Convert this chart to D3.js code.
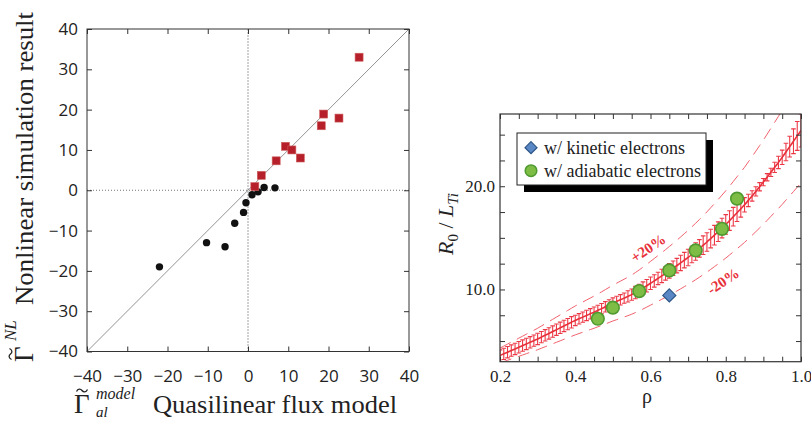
<!DOCTYPE html>
<meta charset="utf-8">
<style>
body { margin: 0; background: #fff; }
svg { display: block; }
.tick line { stroke: #333; }
</style>
<body>
<script src="https://d3js.org/d3.v7.min.js"></script>
<script>
// ---- left panel: flux model vs nonlinear result ----
var gammaModelRed = [27.6, 18.8, 22.6, 18.2, 9.3, 10.9, 13.0, 7.0, 3.3, 1.7];
var gammaNLRed    = [33.0, 18.9, 17.9, 16.0, 10.9, 10.0, 8.0, 7.3, 3.7, 0.9];
var gammaModelBlack = [-22.0, -10.3, -5.7, -3.3, -1.1, -0.5, 1.0, 2.5, 4.0, 6.7];
var gammaNLBlack    = [-19.0, -13.0, -14.0, -8.2, -5.5, -3.1, -1.1, -0.4, 0.7, 0.6];
var leftTicks = [-40, -30, -20, -10, 0, 10, 20, 30, 40];

// ---- right panel: R0/LTi vs rho ----
var rhoAdiabatic  = [0.46, 0.50, 0.57, 0.65, 0.72, 0.79, 0.83];
var gradAdiabatic = [7.16, 8.23, 9.84, 11.84, 13.78, 15.87, 18.8];
var rhoKinetic  = [0.65];
var gradKinetic = [9.42];
var rhoGrid = [0.20,0.21,0.22,0.23,0.24,0.25,0.26,0.27,0.28,0.29,
               0.30,0.31,0.32,0.33,0.34,0.35,0.36,0.37,0.38,0.39,
               0.40,0.41,0.42,0.43,0.44,0.45,0.46,0.47,0.48,0.49,
               0.50,0.51,0.52,0.53,0.54,0.55,0.56,0.57,0.58,0.59,
               0.60,0.61,0.62,0.63,0.64,0.65,0.66,0.67,0.68,0.69,
               0.70,0.71,0.72,0.73,0.74,0.75,0.76,0.77,0.78,0.79,
               0.80,0.81,0.82,0.83,0.84,0.85,0.86,0.87,0.88,0.89,
               0.90,0.91,0.92,0.93,0.94,0.95,0.96,0.97,0.98,0.99,1.00];
var gradModel = [3.60,3.76,3.92,4.08,4.24,4.40,4.56,4.72,4.88,5.04,
                 5.20,5.38,5.56,5.74,5.92,6.10,6.28,6.46,6.64,6.82,
                 7.00,7.16,7.32,7.48,7.64,7.80,7.97,8.14,8.32,8.50,
                 8.68,8.84,9.00,9.16,9.33,9.50,9.70,9.91,10.13,10.36,
                 10.60,10.83,11.07,11.31,11.55,11.80,12.05,12.31,12.57,12.84,
                 13.10,13.39,13.68,13.98,14.29,14.60,14.93,15.26,15.60,15.95,
                 16.30,16.67,17.05,17.43,17.81,18.20,18.63,19.06,19.50,19.95,
                 20.40,20.87,21.35,21.83,22.31,22.80,23.32,23.84,24.36,24.88,25.40];
var gradErr = [0.55,0.55,0.55,0.55,0.55,0.55,0.55,0.55,0.55,0.55,
               0.55,0.55,0.55,0.55,0.55,0.55,0.55,0.55,0.55,0.55,
               0.5,0.5,0.5,0.5,0.5,0.5,0.5,0.5,0.5,0.5,
               0.5,0.5,0.5,0.5,0.55,0.55,0.6,0.6,0.6,0.6,
               0.6,0.6,0.6,0.65,0.65,0.7,0.7,0.7,0.75,0.75,
               0.8,0.8,0.85,0.85,0.9,0.9,0.9,0.95,0.95,0.95,
               0.95,0.95,0.9,0.85,0.8,0.7,0.6,0.5,0.45,0.4,
               0.35,0.35,0.4,0.5,0.6,0.7,0.85,1.0,1.2,1.4,1.6];
var bandFactor = [1.2, 0.8];
var bandLabels = ["+20%", "-20%"];
var rhoTicks = [0.2,0.25,0.3,0.35,0.4,0.45,0.5,0.55,0.6,0.65,0.7,0.75,0.8,0.85,0.9,0.95,1.0];
var rhoLabels = [0.2, 0.4, 0.6, 0.8, 1.0];
var gradTicks = [5, 7.5, 10, 12.5, 15, 17.5, 20, 22.5, 25];
var gradLabels = [10, 20];

var serif = "'Liberation Serif', 'DejaVu Serif', serif";
var sans = "'Open Sans', sans-serif";

var svg = d3.select("body").append("svg")
    .attr("width", 811).attr("height", 421);

// ================= left panel =================
var x1 = d3.scaleLinear().domain([-40, 40]).range([87, 409]);
var y1 = d3.scaleLinear().domain([-40, 40]).range([351.5, 29]);

var L = svg.append("g");

L.append("line")
    .attr("x1", x1(-40)).attr("y1", y1(-40))
    .attr("x2", x1(40)).attr("y2", y1(40))
    .attr("stroke", "#777").attr("stroke-width", 0.8);
L.append("line")
    .attr("x1", x1(0)).attr("x2", x1(0)).attr("y1", y1(-40)).attr("y2", y1(40))
    .attr("stroke", "#444").attr("stroke-width", 1).attr("stroke-dasharray", "1,2");
L.append("line")
    .attr("x1", x1(-40)).attr("x2", x1(40)).attr("y1", y1(0)).attr("y2", y1(0))
    .attr("stroke", "#777").attr("stroke-width", 1).attr("stroke-dasharray", "1,2");

L.append("g").attr("transform", "translate(0," + y1(-40) + ")")
    .call(d3.axisBottom(x1).tickValues(leftTicks).tickSize(-5).tickPadding(18));
L.append("g").attr("transform", "translate(0," + y1(40) + ")")
    .call(d3.axisTop(x1).tickValues(leftTicks).tickSize(-5).tickFormat(""));
L.append("g").attr("transform", "translate(" + x1(-40) + ",0)")
    .call(d3.axisLeft(y1).tickValues(leftTicks).tickSize(-5).tickPadding(9));
L.append("g").attr("transform", "translate(" + x1(40) + ",0)")
    .call(d3.axisRight(y1).tickValues(leftTicks).tickSize(-5).tickFormat(""));
L.selectAll(".domain").remove();
L.selectAll(".tick text").style("font-family", sans).style("font-size", "17px").style("fill", "#222");
L.append("rect")
    .attr("x", x1(-40)).attr("y", y1(40))
    .attr("width", x1(40) - x1(-40)).attr("height", y1(-40) - y1(40))
    .attr("fill", "none").attr("stroke", "#333").attr("stroke-width", 1);

L.selectAll(".blk").data(gammaModelBlack).enter().append("circle")
    .attr("cx", function(d) { return x1(d); })
    .attr("cy", function(d, i) { return y1(gammaNLBlack[i]); })
    .attr("r", 3.7).attr("fill", "#111");

L.selectAll(".red").data(gammaModelRed).enter().append("rect")
    .attr("x", function(d) { return x1(d) - 4; })
    .attr("y", function(d, i) { return y1(gammaNLRed[i]) - 4; })
    .attr("width", 8).attr("height", 8)
    .attr("fill", "#b5202a").attr("stroke", "#d06060").attr("stroke-width", 0.6);

// axis titles (serif, TeX-like); gamma with a tilde drawn on top
function gammaTilde(g, x, y) {
  g.append("text").attr("x", x).attr("y", y).style("font-family", serif).style("font-size", "27px").style("fill", "#222").text("\u0393");
  g.append("path")
      .attr("transform", "translate(" + x + "," + y + ")")
      .attr("d", "M2.5,-21.5C4,-24.5 6.5,-24.5 8,-22.5C9.5,-20.5 12,-20.5 13.5,-23.5")
      .attr("fill", "none").attr("stroke", "#222").attr("stroke-width", 1.3);
}
var xt = L.append("g");
gammaTilde(xt, 74, 413);
xt.append("text").attr("x", 96).attr("y", 399).style("font-family", serif).style("font-size", "16px").style("font-style", "italic").style("fill", "#222").text("model");
xt.append("text").attr("x", 96).attr("y", 417).style("font-family", serif).style("font-size", "15px").style("font-style", "italic").style("fill", "#222").text("al");
xt.append("text").attr("x", 153).attr("y", 413).style("font-family", serif).style("font-size", "25px").style("fill", "#222")
    .attr("textLength", 244).attr("lengthAdjust", "spacingAndGlyphs").text("Quasilinear flux model");

var yt = L.append("g").attr("transform", "translate(33,362) rotate(-90)");
gammaTilde(yt, 0, 0);
yt.append("text").attr("x", 21).attr("y", -17).style("font-family", serif).style("font-size", "17px").style("font-style", "italic").style("fill", "#222").text("NL");
yt.append("text").attr("x", 57).attr("y", 0).style("font-family", serif).style("font-size", "25px").style("fill", "#222")
    .attr("textLength", 293).attr("lengthAdjust", "spacingAndGlyphs").text("Nonlinear simulation result");

// ================= right panel =================
var x2 = d3.scaleLinear().domain([0.2, 1.0]).range([500, 801]);
var y2 = d3.scaleLinear().domain([3, 27]).range([361.7, 114]);
var R = svg.append("g");

svg.append("defs").append("clipPath").attr("id", "clipR")
  .append("rect").attr("x", 500).attr("y", 114).attr("width", 301).attr("height", 247.7);

var plot = R.append("g").attr("clip-path", "url(#clipR)");

var curve = d3.line()
    .x(function(d, i) { return x2(rhoGrid[i]); })
    .y(function(d) { return y2(d); })
    .curve(d3.curveMonotoneX);

// +/-20% bands
bandFactor.forEach(function(f) {
  plot.append("path")
      .datum(gradModel.map(function(v) { return v * f; }))
      .attr("d", curve)
      .attr("fill", "none").attr("stroke", "#f0606c").attr("stroke-width", 1)
      .attr("stroke-dasharray", "12,7");
});

// error bars
var eb = plot.selectAll(".eb").data(gradModel).enter().append("g").attr("class", "eb");
eb.append("line")
    .attr("x1", function(d, i) { return x2(rhoGrid[i]); })
    .attr("x2", function(d, i) { return x2(rhoGrid[i]); })
    .attr("y1", function(d, i) { return y2(d - gradErr[i]); })
    .attr("y2", function(d, i) { return y2(d + gradErr[i]); })
    .attr("stroke", "#ec3846").attr("stroke-width", 1.1);
[-1, 1].forEach(function(s) {
  eb.append("line")
      .attr("x1", function(d, i) { return x2(rhoGrid[i]) - 2.3; })
      .attr("x2", function(d, i) { return x2(rhoGrid[i]) + 2.3; })
      .attr("y1", function(d, i) { return y2(d + s * gradErr[i]); })
      .attr("y2", function(d, i) { return y2(d + s * gradErr[i]); })
      .attr("stroke", "#ec3846").attr("stroke-width", 1.1);
});

plot.append("path").datum(gradModel).attr("d", curve)
    .attr("fill", "none").attr("stroke", "#e8303a").attr("stroke-width", 1.6);

// band labels
var labPos = [[648, 248], [723, 281]];
bandLabels.forEach(function(t, i) {
  R.append("text")
      .attr("transform", "translate(" + labPos[i][0] + "," + labPos[i][1] + ") rotate(-34)")
      .attr("text-anchor", "middle").attr("dy", "0.35em")
      .style("font-family", serif).style("font-size", "15px").style("font-weight", "bold").style("fill", "#e8303a")
      .text(t);
});

// points
R.selectAll(".ad").data(rhoAdiabatic).enter().append("circle")
    .attr("cx", function(d) { return x2(d); })
    .attr("cy", function(d, i) { return y2(gradAdiabatic[i]); })
    .attr("r", 6.3).attr("fill", "#7dbd45").attr("stroke", "#4f9a30").attr("stroke-width", 1.6);
R.selectAll(".kin").data(rhoKinetic).enter().append("path")
    .attr("transform", function(d, i) { return "translate(" + x2(d) + "," + y2(gradKinetic[i]) + ")"; })
    .attr("d", "M0,-6.5L6.5,0L0,6.5L-6.5,0Z")
    .attr("fill", "#5a88c4").attr("stroke", "#2d5587").attr("stroke-width", 1.2);

// axes
var f1 = d3.format(".1f");
var ax = R.append("g");
ax.append("g").attr("transform", "translate(0," + y2(3) + ")")
    .call(d3.axisBottom(x2).tickValues(rhoTicks).tickSize(-5).tickPadding(8.5)
      .tickFormat(function(d) { return rhoLabels.some(function(v) { return Math.abs(v - d) < 1e-6; }) ? f1(d) : ""; }));
ax.append("g").attr("transform", "translate(0," + y2(27) + ")")
    .call(d3.axisTop(x2).tickValues(rhoTicks).tickSize(-5).tickFormat(""));
ax.append("g").attr("transform", "translate(" + x2(0.2) + ",0)")
    .call(d3.axisLeft(y2).tickValues(gradTicks).tickSize(-5).tickPadding(5)
      .tickFormat(function(d) { return gradLabels.indexOf(d) >= 0 ? f1(d) : ""; }));
ax.append("g").attr("transform", "translate(" + x2(1.0) + ",0)")
    .call(d3.axisRight(y2).tickValues(gradTicks).tickSize(-5).tickFormat(""));
ax.selectAll(".domain").remove();
ax.selectAll(".tick text").style("font-family", serif).style("font-size", "17px").style("fill", "#222");
R.append("rect")
    .attr("x", x2(0.2)).attr("y", y2(27))
    .attr("width", x2(1.0) - x2(0.2)).attr("height", y2(3) - y2(27))
    .attr("fill", "none").attr("stroke", "#333").attr("stroke-width", 1.2);

// legend
var lg = R.append("g");
lg.append("rect").attr("x", 524).attr("y", 140).attr("width", 189).attr("height", 52).attr("fill", "#000");
lg.append("rect").attr("x", 517).attr("y", 133).attr("width", 189).attr("height", 52)
    .attr("fill", "#fff").attr("stroke", "#222").attr("stroke-width", 1);
lg.append("path").attr("transform", "translate(531,147.7)")
    .attr("d", "M0,-6L6,0L0,6L-6,0Z")
    .attr("fill", "#5a88c4").attr("stroke", "#2d5587").attr("stroke-width", 1.2);
lg.append("circle").attr("cx", 531).attr("cy", 170.7).attr("r", 5.8)
    .attr("fill", "#7dbd45").attr("stroke", "#4f9a30").attr("stroke-width", 1.5);
lg.append("text").attr("x", 544).attr("y", 153.5).text("w/ kinetic electrons");
lg.append("text").attr("x", 544).attr("y", 176.5).text("w/ adiabatic electrons");
lg.selectAll("text").style("font-family", serif).style("font-size", "18px").style("fill", "#222");

// titles
R.append("text").attr("x", 647).attr("y", 403).attr("text-anchor", "middle")
    .style("font-family", serif).style("font-size", "20px").style("fill", "#222").text("\u03c1");
var yl = R.append("text").attr("transform", "translate(453,224) rotate(-90)")
    .attr("text-anchor", "middle").style("font-family", serif).style("font-size", "22px").style("fill", "#222");
yl.append("tspan").style("font-style", "italic").text("R");
yl.append("tspan").style("font-size", "15px").attr("dy", 5).text("0");
yl.append("tspan").attr("dy", -5).text(" / ");
yl.append("tspan").style("font-style", "italic").text("L");
yl.append("tspan").style("font-size", "15px").style("font-style", "italic").attr("dy", 5).text("Ti");
</script>
</body>
